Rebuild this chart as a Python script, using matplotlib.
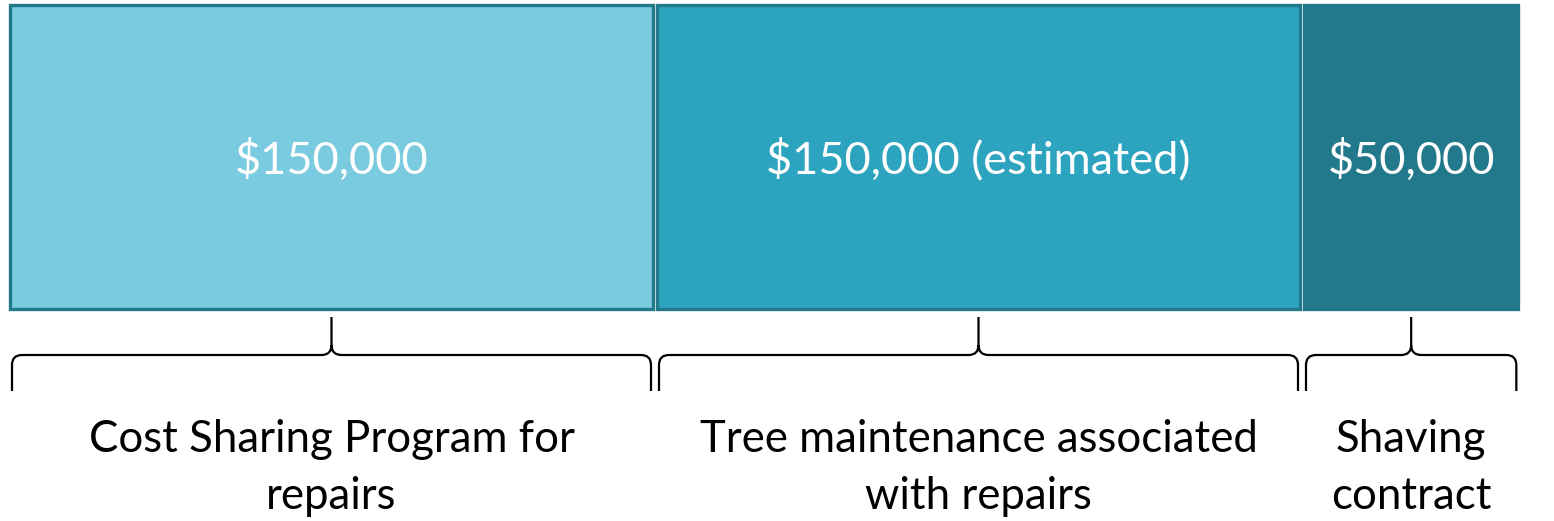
import matplotlib
matplotlib.use('Agg')
import matplotlib.pyplot as plt
from matplotlib.patches import Rectangle, PathPatch
from matplotlib.path import Path

# --- data ---
amounts = [150000, 150000, 50000]
amount_labels = ['$150,000', '$150,000 (estimated)', '$50,000']
categories = ['Cost Sharing Program for\nrepairs',
              'Tree maintenance associated\nwith repairs',
              'Shaving\ncontract']

# --- style ---
fills = ['#7ACBE0', '#2CA3BF', '#22798B']
edge = '#22798B'
font = 'Lato'

W, H = 1554, 521
fig = plt.figure(figsize=(W / 100, H / 100), dpi=100)
ax = fig.add_axes([10 / W, 0, 1 - 10 / W, 1])

px = 150000 / 643  # dollars per pixel
gap = 4 * px       # white space between blocks
ax.set_xlim(0, (W - 10) * px)
ax.set_ylim(H, 0)  # vertical layout in pixel units
ax.axis('off')


def brace(x0, x1, y_tip, y_mid, y_bot, r=10):
    # curly brace: hooked ends, pointed tip in the middle
    xm = (x0 + x1) / 2
    rx = r * px
    verts = [(x0, y_bot), (x0, y_mid + r), (x0, y_mid), (x0 + rx, y_mid),
             (xm - rx, y_mid), (xm, y_mid), (xm, y_mid - r), (xm, y_tip),
             (xm, y_mid - r), (xm, y_mid), (xm + rx, y_mid),
             (x1 - rx, y_mid), (x1, y_mid), (x1, y_mid + r), (x1, y_bot)]
    codes = [Path.MOVETO, Path.LINETO, Path.CURVE3, Path.CURVE3,
             Path.LINETO, Path.CURVE3, Path.CURVE3, Path.LINETO,
             Path.MOVETO, Path.CURVE3, Path.CURVE3,
             Path.LINETO, Path.CURVE3, Path.CURVE3, Path.LINETO]
    ax.add_patch(PathPatch(Path(verts, codes), fill=False, lw=1.6,
                           edgecolor='black', capstyle='butt', joinstyle='round'))


left = 0
for amt, lab, cat, fc in zip(amounts, amount_labels, categories, fills):
    ax.add_patch(Rectangle((left, 4.5), amt, 304, facecolor=fc,
                           edgecolor=edge, lw=2.4, clip_on=False))
    cx = left + amt / 2
    ax.text(cx, 160, lab, color='white', fontsize=32.5, family=font,
            ha='center', va='center')
    brace(left + 2 * px, left + amt - 2 * px, 317, 355, 391)
    ax.text(cx, 468, cat, color='black', fontsize=31.5, family=font,
            ha='center', va='center', linespacing=1.47)
    left += amt + gap

fig.savefig('out.png', dpi=100)
